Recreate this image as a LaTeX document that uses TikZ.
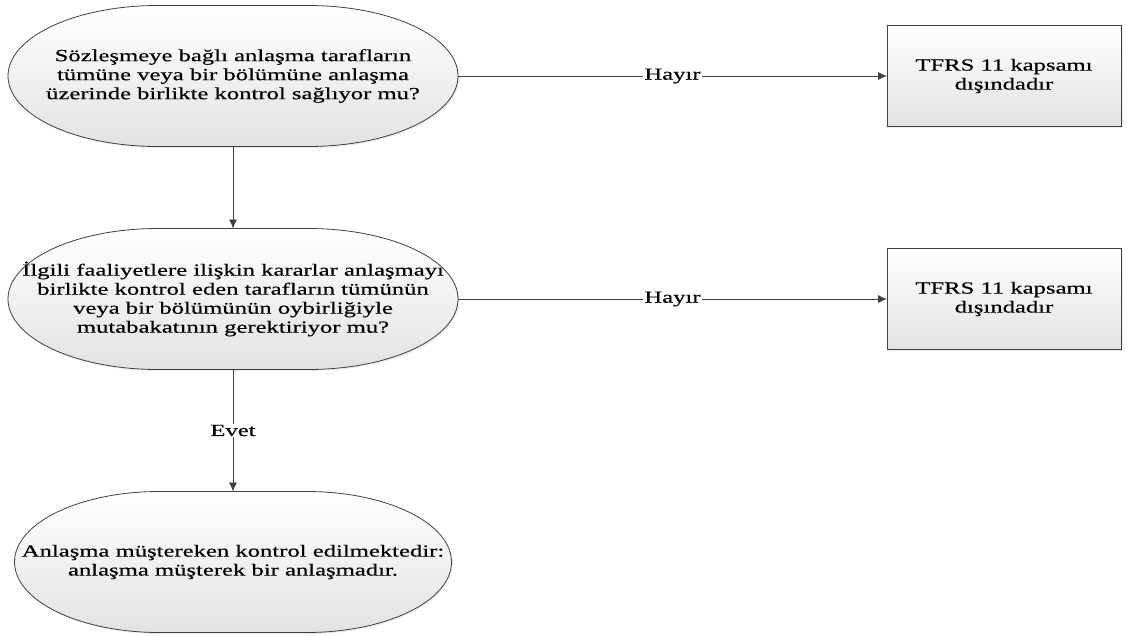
\documentclass[tikz,border=0pt]{standalone}
\usepackage{fontspec}
\setmainfont[FakeStretch=1.45, FakeBold=0.4]{Liberation Serif}
\usepackage{tikz}
\usetikzlibrary{positioning, arrows.meta, shadows, backgrounds}

\definecolor{lineGray}{HTML}{404040}
\definecolor{fillGray}{HTML}{E2E2E2}

\begin{document}
\begin{tikzpicture}[
    x=1pt, y=1pt,
    question/.style = {rectangle, minimum width=#1, minimum height=141pt,
                       inner sep=0pt, outer sep=0pt, align=center,
                       font=\fontsize{17}{19}\selectfont},
    question/.default = 450pt
    ]
            % styles
            \tikzstyle{outbox} = [rectangle, draw=lineGray, line width=0.8pt,
                                  top color=white, bottom color=fillGray,
                                  drop shadow={opacity=0.15, shadow xshift=1.5pt, shadow yshift=-1.5pt},
                                  minimum width=234pt, minimum height=101pt,
                                  inner sep=0pt, outer sep=0pt, align=center,
                                  font=\fontsize{17}{19}\selectfont]
            \tikzstyle{oval} = [draw=lineGray, line width=0.8pt,
                                top color=white, bottom color=fillGray,
                                drop shadow={opacity=0.15, shadow xshift=1.5pt, shadow yshift=-1.5pt}]
            \tikzstyle{arrow} = [line width=0.8pt, draw=lineGray, -{Latex[length=9pt, width=8pt]}]
            \tikzstyle{answer} = [fill=white, inner sep=1pt, font=\fontsize{17}{19}\selectfont]

            \useasboundingbox (0,0) rectangle (1127,-635);

            \node (q1) at (233,-76) [question] {S\"ozle\c{s}meye ba\u{g}l\i{} anla\c{s}ma taraflar\i n\\t\"um\"une veya bir b\"ol\"um\"une anla\c{s}ma\\\"uzerinde birlikte kontrol sa\u{g}l\i yor mu?};
            \node (q2) [question, below=82pt of q1] {\.Ilgili faaliyetlere ili\c{s}kin kararlar anla\c{s}may\i\\birlikte kontrol eden taraflar\i n t\"um\"un\"un\\veya bir b\"ol\"um\"un\"un oybirli\u{g}iyle\\mutabakat\i n\i n gerektiriyor mu?};
            \node (res) [question=437pt, below=122pt of q2] {Anla\c{s}ma m\"u\c{s}tereken kontrol edilmektedir:\\anla\c{s}ma m\"u\c{s}terek bir anla\c{s}mad\i r.};

            \node (out1) [outbox, right=429pt of q1] {TFRS 11 kapsam\i\\d\i\c{s}\i ndad\i r};
            \node (out2) [outbox, right=429pt of q2] {TFRS 11 kapsam\i\\d\i\c{s}\i ndad\i r};

            % rounded outlines behind the question texts
            \begin{scope}[on background layer]
                \foreach \n/\r in {q1/150, q2/150, res/145}
                    \path [oval] ([xshift=\r]\n.north west) -- ([xshift=-\r]\n.north east)
                        arc [start angle=90, end angle=-90, x radius=\r, y radius=70.5]
                        -- ([xshift=\r]\n.south west)
                        arc [start angle=270, end angle=90, x radius=\r, y radius=70.5] -- cycle;
            \end{scope}

            \draw [arrow] (q1) -- (out1) node[midway, answer] {Hay\i r};
            \draw [arrow] (q2) -- (out2) node[midway, answer] {Hay\i r};
            \draw [arrow] (q1) -- (q2);
            \draw [arrow] (q2) -- (res) node[midway, answer] {Evet};
    \end{tikzpicture}
\end{document}
